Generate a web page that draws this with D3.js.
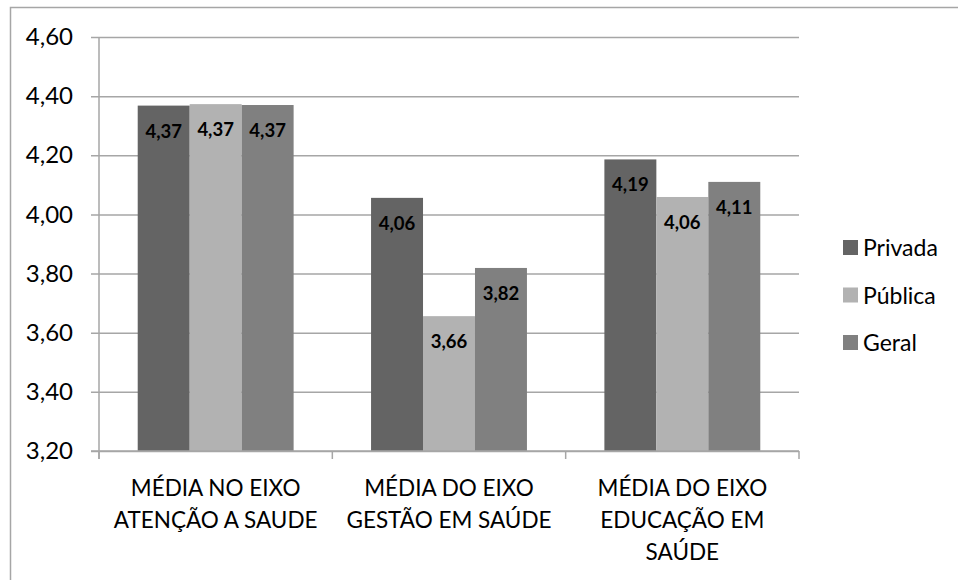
<!DOCTYPE html>
<html><head><meta charset="utf-8">
<script src="https://cdn.jsdelivr.net/npm/d3@7"></script>
<style>body{margin:0;background:#fff;}svg{display:block;}</style>
</head><body>
<svg id="c" width="958" height="580"></svg>
<script>
const categories = [["MÉDIA NO EIXO","ATENÇÃO A SAUDE"],["MÉDIA DO EIXO","GESTÃO EM SAÚDE"],["MÉDIA DO EIXO","EDUCAÇÃO EM","SAÚDE"]];
const seriesNames = ["Privada","Pública","Geral"];
const privada = [4.368, 4.056, 4.186];
const publica = [4.373, 3.656, 4.059];
const geral   = [4.370, 3.819, 4.110];
const yTicks = [3.2,3.4,3.6,3.8,4.0,4.2,4.4,4.6];
const colors = ["#646464","#b2b2b2","#808080"];
const series = [privada, publica, geral];

const svg = d3.select("#c");
const font = "Lato, 'Open Sans', sans-serif";
// outer border
svg.append("path").attr("d","M10.5,580 L10.5,7.5 L958,7.5").attr("fill","none").attr("stroke","#a6a6a6").attr("stroke-width",1.5);

const L=99, R=799, T=37, B=451;
const y = d3.scaleLinear().domain([3.2,4.6]).range([B,T]);
const x0 = d3.scaleBand().domain(d3.range(categories.length)).range([L,R]).paddingInner(0).paddingOuter(0);
const x1 = d3.scaleBand().domain(d3.range(seriesNames.length)).range([0,x0.bandwidth()]).paddingOuter(0.745).paddingInner(0);

// gridlines
const yAxis = d3.axisLeft(y).tickValues(yTicks).tickSize(-(R-L)).tickSizeOuter(0).tickPadding(26)
  .tickFormat(d=>d3.format(".2f")(d).replace(".",","));
const gy = svg.append("g").attr("transform",`translate(${L},0)`).call(yAxis);
gy.select(".domain").remove();
gy.selectAll(".tick line").attr("stroke","#a6a6a6").attr("stroke-width",1.5).attr("x1",-8);
gy.selectAll(".tick text").attr("font-family",font).attr("font-size",24).attr("fill","#000");

// bars
const g = svg.append("g");
categories.forEach((c,i)=>{
  series.forEach((s,j)=>{
    g.append("rect").attr("x",x0(i)+x1(j)).attr("width",x1.bandwidth())
      .attr("y",y(s[i])).attr("height",B-y(s[i])).attr("fill",colors[j]);
    g.append("text").attr("x",x0(i)+x1(j)+x1.bandwidth()/2).attr("y",y(s[i])+25)
      .attr("text-anchor","middle").attr("dominant-baseline","central")
      .attr("font-family",font).attr("font-weight","bold").attr("font-size",18.5).attr("fill","#000")
      .text(d3.format(".2f")(s[i]).replace(".",","));
  });
});

// axes lines
svg.append("line").attr("x1",L).attr("x2",L).attr("y1",T).attr("y2",B+8).attr("stroke","#a6a6a6").attr("stroke-width",1.5);
svg.append("line").attr("x1",L-8).attr("x2",R).attr("y1",B).attr("y2",B).attr("stroke","#a6a6a6").attr("stroke-width",1.5);
d3.range(categories.length+1).forEach(i=>{
  const xx = i<categories.length ? x0(i) : R;
  svg.append("line").attr("x1",xx).attr("x2",xx).attr("y1",B).attr("y2",B+8).attr("stroke","#a6a6a6").attr("stroke-width",1.5);
});

// category labels
categories.forEach((c,i)=>{
  const t = svg.append("text").attr("x",x0(i)+x0.bandwidth()/2).attr("y",487)
    .attr("text-anchor","middle").attr("font-family",font).attr("font-size",22.5).attr("fill","#000");
  c.forEach((line,k)=>{
    t.append("tspan").attr("x",x0(i)+x0.bandwidth()/2).attr("y",487+k*32).attr("dominant-baseline","central").text(line);
  });
});

// legend
seriesNames.forEach((n,j)=>{
  const cy = 247 + j*47.5;
  svg.append("rect").attr("x",843).attr("y",cy-7).attr("width",15).attr("height",15).attr("fill",colors[j]);
  svg.append("text").attr("x",863).attr("y",cy).attr("dominant-baseline","central")
    .attr("font-family",font).attr("font-size",23).attr("fill","#000").text(n);
});
</script>
</body></html>
